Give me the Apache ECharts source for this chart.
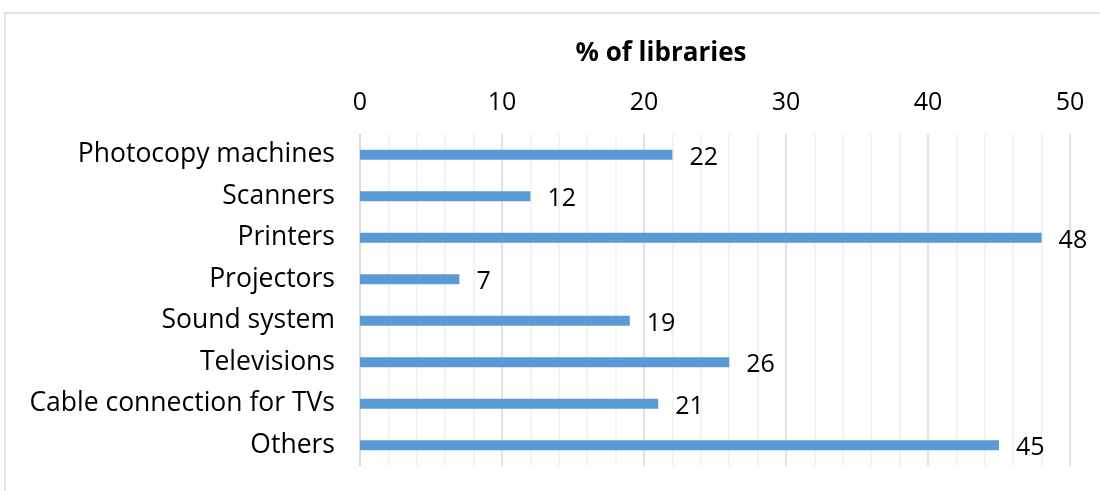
<!DOCTYPE html>
<html><head><meta charset="utf-8">
<script src="https://cdn.jsdelivr.net/npm/echarts@6/dist/echarts.min.js"></script>
<style>html,body{margin:0;padding:0;background:#fff}#c{width:1100px;height:491px}</style>
</head><body><div id="c"></div>
<script>
const categories = ["Photocopy machines","Scanners","Printers","Projectors","Sound system","Televisions","Cable connection for TVs","Others"];
const values = [22,12,48,7,19,26,21,45];
const axisTitle = "% of libraries";
const FONT = "Open Sans";
const chart = echarts.init(document.getElementById('c'));
chart.setOption({
  animation:false,
  backgroundColor:'#fff',
  graphic:[{type:'rect',shape:{x:5,y:13,width:1200,height:600},style:{fill:'none',stroke:'#d9d9d9',lineWidth:1.5},silent:true}],
  title:{text:axisTitle,left:656,top:36,textAlign:'center',textStyle:{fontFamily:FONT,fontSize:26,fontWeight:'bold',color:'#000'}},
  grid:{left:360,right:30,top:134,bottom:25,containLabel:false},
  xAxis:{
    type:'value',position:'top',min:0,max:50,interval:10,
    axisLine:{show:false},axisTick:{show:false},
    axisLabel:{fontFamily:FONT,fontSize:25,color:'#000',margin:19},
    splitLine:{show:true,lineStyle:{color:'#d9d9d9',width:1.5}},
    minorTick:{show:false,splitNumber:5},
    minorSplitLine:{show:true,lineStyle:{color:'#efefef',width:1.5}}
  },
  yAxis:{
    type:'category',data:categories,inverse:true,
    axisLine:{show:true,lineStyle:{color:'#d9d9d9',width:1.5}},axisTick:{show:false},
    axisLabel:{fontFamily:FONT,fontSize:26.5,color:'#000',margin:25,offset:0}
  },
  series:[{
    type:'bar',data:values,barWidth:10,
    itemStyle:{color:'#5b9bd5'},
    label:{show:true,position:'right',distance:17,fontFamily:FONT,fontSize:25,color:'#000',offset:[0,3]}
  }]
});
</script></body></html>
